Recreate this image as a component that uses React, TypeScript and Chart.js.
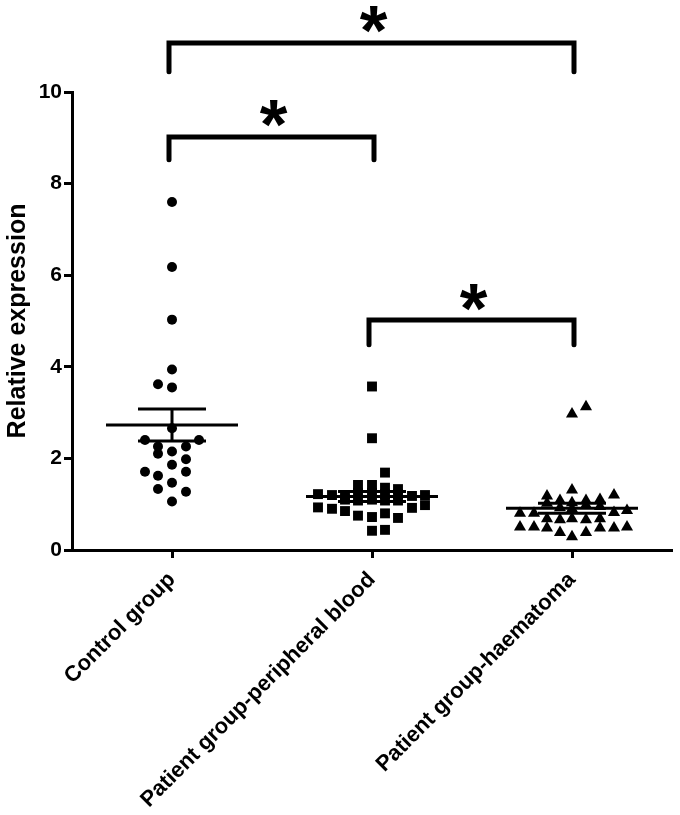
import React, { useEffect, useRef } from 'react';
import { Chart, registerables } from 'chart.js';

Chart.register(...registerables);

// ---- Data ----
const categories = ['Control group', 'Patient group-peripheral blood', 'Patient group-haematoma'];
const yTickValues = [0, 2, 4, 6, 8, 10];

// Control group (circles): values and horizontal jitter (fraction of a category slot)
const controlValues = [7.6, 6.18, 5.03, 3.94, 3.62, 3.55, 2.66, 2.4, 2.4, 2.26, 2.26, 2.15, 2.1, 1.98, 1.86, 1.71, 1.71, 1.62, 1.47, 1.33, 1.27, 1.06];
const controlJitter = [0, 0, 0, 0, -0.07, 0, 0, -0.135, 0.135, -0.07, 0.07, 0, -0.07, 0.07, 0, -0.135, 0.07, -0.07, 0, -0.07, 0.07, 0];

// Patient group - peripheral blood (squares)
const bloodValues = [3.57, 2.44, 1.69, 1.42, 1.42, 1.36, 1.33, 1.22, 1.2, 1.2, 1.25, 1.25, 1.22, 1.22, 1.18, 1.2, 1.1, 1.08, 1.1, 1.08, 1.08, 0.93, 0.9, 0.85, 0.92, 0.98, 0.75, 0.72, 0.8, 0.7, 0.42, 0.44];
const bloodJitter = [0, 0, 0.065, -0.07, 0, 0.065, 0.13, -0.27, -0.2, -0.135, -0.07, 0, 0.065, 0.13, 0.2, 0.265, -0.135, -0.07, 0, 0.065, 0.13, -0.27, -0.2, -0.135, 0.2, 0.265, -0.07, 0, 0.065, 0.13, 0, 0.065];

// Patient group - haematoma (triangles)
const haematomaValues = [2.97, 3.13, 1.31, 1.18, 1.2, 1.08, 1.08, 1.1, 1.02, 1.03, 0.98, 0.92, 0.9, 0.95, 0.8, 0.8, 0.82, 0.86, 0.68, 0.66, 0.68, 0.66, 0.68, 0.5, 0.5, 0.48, 0.48, 0.48, 0.5, 0.38, 0.38, 0.29];
const haematomaJitter = [0, 0.07, 0, -0.125, 0.21, -0.06, 0.07, 0.14, -0.125, 0, 0.07, -0.06, 0, 0.14, -0.26, -0.19, 0.21, 0.275, -0.125, -0.06, 0, 0.07, 0.14, -0.26, -0.19, -0.125, 0.14, 0.21, 0.275, -0.06, 0.07, 0];

// Mean and SEM per group
const groupMeans = [2.73, 1.17, 0.91];
const groupSemHigh = [3.08, 1.28, 1.02];
const groupSemLow = [2.38, 1.06, 0.8];

// Significance brackets: [group a, group b], bracket level and leg end (data units)
const comparisons = [[0, 2], [0, 1], [1, 2]];
const bracketLevels = [11.07, 9.02, 5.02];
const bracketLegEnds = [10.44, 8.52, 4.48];
const significanceMarks = ['*', '*', '*'];

const FONT = '"Liberation Sans", Arial, sans-serif';
const MEAN_HALF = 0.33;
const CAP_HALF = 0.17;

const bracketPlugin = {
  id: 'sigBrackets',
  afterDraw(chart: any) {
    const { ctx } = chart;
    const xs = chart.scales.x;
    const ys = chart.scales.y;
    ctx.save();
    ctx.strokeStyle = '#000';
    ctx.fillStyle = '#000';
    ctx.lineWidth = 5;
    ctx.lineCap = 'round';
    ctx.lineJoin = 'miter';
    // size the asterisk so its glyph is ~27px tall
    ctx.font = `bold 100px ${FONT}`;
    const m0 = ctx.measureText('*');
    const h0 = (m0.actualBoundingBoxAscent + m0.actualBoundingBoxDescent) || 40;
    const fs = (100 * 27) / h0;
    comparisons.forEach(([a, b], i) => {
      const xa = xs.getPixelForValue(a) - 3;
      const xb = xs.getPixelForValue(b) + 2;
      const yt = ys.getPixelForValue(bracketLevels[i]);
      const yl = ys.getPixelForValue(bracketLegEnds[i]);
      ctx.beginPath();
      ctx.moveTo(xa, yl);
      ctx.lineTo(xa, yt);
      ctx.lineTo(xb, yt);
      ctx.lineTo(xb, yl);
      ctx.stroke();
      ctx.font = `bold ${fs}px ${FONT}`;
      ctx.textAlign = 'center';
      ctx.textBaseline = 'alphabetic';
      const m = ctx.measureText(significanceMarks[i]);
      const cy = yt - 23;
      const by = cy - (m.actualBoundingBoxDescent - m.actualBoundingBoxAscent) / 2;
      ctx.fillText(significanceMarks[i], (xa + xb) / 2 + 2, by);
    });
    ctx.restore();
  },
};

function pointsOf(values: number[], jitter: number[], idx: number) {
  return values.map((v, k) => ({ x: idx + jitter[k], y: v }));
}

export default function App() {
  const canvasRef = useRef<HTMLCanvasElement | null>(null);

  useEffect(() => {
    document.body.style.margin = '0';
    const canvas = canvasRef.current;
    if (!canvas) return;

    const summaryDatasets: any[] = [];
    groupMeans.forEach((mean, i) => {
      summaryDatasets.push({
        type: 'line',
        data: [
          { x: i - MEAN_HALF, y: mean },
          { x: i + MEAN_HALF, y: mean },
        ],
        borderColor: '#000',
        borderWidth: 3,
        pointRadius: 0,
        fill: false,
        order: 0,
      });
      summaryDatasets.push({
        type: 'line',
        data: [
          { x: i - CAP_HALF, y: groupSemHigh[i] },
          { x: i + CAP_HALF, y: groupSemHigh[i] },
          { x: i, y: null },
          { x: i, y: groupSemHigh[i] },
          { x: i, y: groupSemLow[i] },
          { x: i, y: null },
          { x: i - CAP_HALF, y: groupSemLow[i] },
          { x: i + CAP_HALF, y: groupSemLow[i] },
        ],
        borderColor: '#000',
        borderWidth: 3,
        pointRadius: 0,
        fill: false,
        spanGaps: false,
        order: 0,
      });
    });

    const chart = new Chart(canvas, {
      type: 'scatter',
      data: {
        datasets: [
          {
            data: pointsOf(controlValues, controlJitter, 0),
            pointStyle: 'circle',
            pointRadius: 5,
            backgroundColor: '#000',
            borderColor: '#000',
            borderWidth: 0,
            order: 1,
          },
          {
            data: pointsOf(bloodValues, bloodJitter, 1),
            pointStyle: 'rect',
            pointRadius: 7,
            backgroundColor: '#000',
            borderColor: '#000',
            borderWidth: 0,
            order: 1,
          },
          {
            data: pointsOf(haematomaValues, haematomaJitter, 2),
            pointStyle: 'triangle',
            pointRadius: 7,
            backgroundColor: '#000',
            borderColor: '#000',
            borderWidth: 0,
            order: 1,
          },
          ...summaryDatasets,
        ],
      },
      options: {
        responsive: false,
        animation: false,
        layout: { padding: { top: 92, right: 8, left: 0, bottom: 0 } },
        plugins: {
          legend: { display: false },
          tooltip: { enabled: false },
        },
        scales: {
          x: {
            type: 'linear',
            min: -0.5,
            max: 2.5,
            afterBuildTicks: (axis: any) => {
              axis.ticks = categories.map((_, i) => ({ value: i }));
            },
            afterFit: (axis: any) => {
              axis.height = 265;
            },
            grid: {
              display: true,
              drawOnChartArea: false,
              drawTicks: true,
              tickLength: 8,
              tickWidth: 3,
              tickColor: '#000',
            },
            border: { display: true, color: '#000', width: 3 },
            ticks: {
              autoSkip: false,
              maxRotation: 45,
              minRotation: 45,
              padding: 9,
              color: '#000',
              font: { family: FONT, weight: 'bold', size: 22 },
              callback: (v: any) => categories[Math.round(Number(v))] ?? '',
            },
          },
          y: {
            type: 'linear',
            min: 0,
            max: 10,
            afterBuildTicks: (axis: any) => {
              axis.ticks = yTickValues.map((v) => ({ value: v }));
            },
            afterFit: (axis: any) => {
              axis.width = 72;
            },
            grid: {
              display: true,
              drawOnChartArea: false,
              drawTicks: true,
              tickLength: 8,
              tickWidth: 3,
              tickColor: '#000',
            },
            border: { display: true, color: '#000', width: 3 },
            ticks: {
              padding: 2,
              color: '#000',
              font: { family: FONT, weight: 'bold', size: 21 },
              callback: (v: any) => String(v),
            },
            title: {
              display: true,
              text: 'Relative expression',
              color: '#000',
              font: { family: FONT, weight: 'bold', size: 25 },
              padding: { top: 3, bottom: 0 },
            },
          },
        },
      },
      plugins: [bracketPlugin],
    } as any);

    return () => {
      chart.destroy();
    };
  }, []);

  return (
    <div style={{ width: 680, height: 815, background: '#fff' }}>
      <canvas ref={canvasRef} width={680} height={815} />
    </div>
  );
}
